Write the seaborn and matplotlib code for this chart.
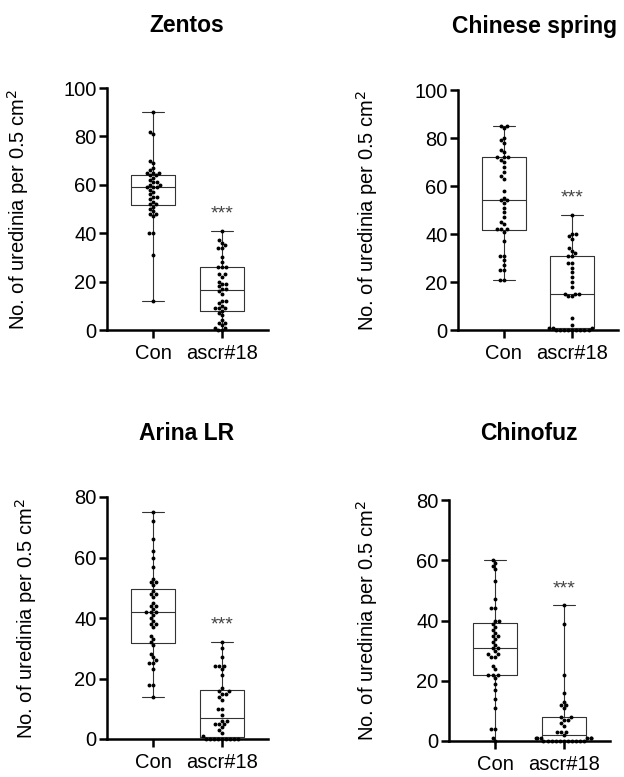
import matplotlib
matplotlib.use("Agg")
import matplotlib.pyplot as plt
import seaborn as sns
import pandas as pd

# values (No. of uredinia per 0.5 cm2)
groups = ["Con", "ascr#18"]
titles = ["Zentos", "Chinese spring", "Arina LR", "Chinofuz"]

zentos_con = [12, 31, 40, 40, 47, 48, 48, 49, 50, 51, 52, 52, 53, 54, 55, 55, 56, 57, 58, 59,
              59, 59, 60, 60, 61, 61, 62, 63, 64, 64, 65, 65, 65, 66, 67, 69, 70, 81, 82, 90]
zentos_ascr = [0, 0, 1, 1, 2, 3, 3, 4, 6, 7, 8, 9, 9, 9, 10, 11, 12, 12, 15, 16,
               17, 17, 18, 19, 19, 20, 22, 23, 23, 26, 26, 26, 28, 30, 34, 34, 35, 36, 37, 41]

cs_con = [21, 21, 25, 25, 27, 29, 31, 31, 37, 41, 42, 42, 42, 44, 45, 47, 49, 51, 53, 54,
          54, 55, 58, 63, 64, 66, 68, 70, 71, 72, 72, 72, 74, 75, 78, 79, 80, 84, 85, 85]
cs_ascr = [0, 0, 0, 0, 0, 0, 0, 0, 0, 1, 1, 1, 2, 5, 14, 14, 15, 15,
           15, 18, 20, 22, 24, 26, 28, 28, 31, 31, 32, 33, 34, 38, 39, 40, 40, 48]

arina_con = [14, 18, 18, 23, 25, 25, 26, 27, 28, 31, 32, 33, 34, 37, 38, 38, 39, 40, 41, 42,
             42, 42, 43, 44, 44, 45, 47, 48, 48, 49, 51, 52, 52, 53, 57, 60, 62, 66, 72, 75]
arina_ascr = [0, 0, 0, 0, 0, 0, 0, 0, 0, 1, 2, 3, 4, 5, 5, 5, 6,
              6, 8, 10, 10, 13, 14, 15, 15, 16, 16, 17, 21, 23, 24, 24, 24, 27, 30, 32]

chino_con = [0, 1, 4, 4, 11, 14, 17, 19, 21, 22, 22, 22, 24, 25, 28, 28, 29, 29, 30, 31,
             31, 32, 33, 34, 35, 35, 36, 37, 38, 39, 40, 40, 44, 44, 47, 53, 57, 58, 60, 59]
chino_ascr = [0, 0, 0, 0, 0, 0, 0, 0, 0, 0, 0, 1, 1, 1, 1, 1, 1, 2,
              3, 3, 3, 5, 6, 7, 7, 8, 8, 11, 12, 12, 13, 16, 22, 39, 45]

panel_data = [(zentos_con, zentos_ascr), (cs_con, cs_ascr),
              (arina_con, arina_ascr), (chino_con, chino_ascr)]
ymax = [100, 100, 80, 80]

sns.set_style("ticks", {"axes.edgecolor": "black", "text.color": "black",
                        "xtick.color": "black", "ytick.color": "black",
                        "axes.labelcolor": "black"})
plt.rcParams["font.family"] = ["Liberation Sans", "DejaVu Sans"]

W, H = 624, 777
fig = plt.figure(figsize=(W / 100, H / 100), dpi=100)

# axes boxes in pixels: left, y of zero line, width, height
boxes = [(107, 330, 161, 242), (458, 330, 160, 240),
         (107, 739, 161, 242), (449, 741, 161, 241)]
title_pos = [(187, 25), (535, 27), (187, 433), (529, 433)]
ylab_x = [-0.47, -0.49, -0.42, -0.43]


def make_frame(con, ascr):
    return pd.DataFrame({
        "group": [groups[0]] * len(con) + [groups[1]] * len(ascr),
        "value": list(con) + list(ascr),
    })


for i, (con, ascr) in enumerate(panel_data):
    l, y0, w, h = boxes[i]
    ax = fig.add_axes([l / W, (H - y0) / H, w / W, h / H])
    df = make_frame(con, ascr)

    sns.boxplot(data=df, x="group", y="value", order=groups, whis=(0, 100),
                width=0.65, fill=False, color="#333333", linewidth=0.8,
                showfliers=False, ax=ax)
    sns.swarmplot(data=df, x="group", y="value", order=groups, color="black",
                  size=2.8, ax=ax)
    for c in ax.collections:
        c.set_clip_on(False)

    ax.set_xlim(-0.67, 1.67)
    ax.set_ylim(0, ymax[i])
    ax.set_yticks(range(0, ymax[i] + 1, 20))
    ax.set_xlabel("")
    ax.set_ylabel("No. of uredinia per 0.5 cm$^2$", fontsize=14.5)
    ax.yaxis.set_label_coords(ylab_x[i], 0.5)
    sns.despine(ax=ax)
    for s in ["left", "bottom"]:
        ax.spines[s].set_linewidth(1.8)
    ax.tick_params(axis="both", width=1.8, length=6, labelsize=14.5, pad=1.5)
    ax.tick_params(axis="x", length=6, pad=4)

    # significance mark above ascr#18
    ax.text(1, max(ascr) + ymax[i] * 0.07, "***", ha="center", va="center",
            fontsize=14, color="#444444")

    tx, ty = title_pos[i]
    fig.text(tx / W, 1 - ty / H, titles[i], ha="center", va="center",
             fontsize=16.5, fontweight="bold")

fig.savefig("out.png", dpi=100, facecolor="white")
